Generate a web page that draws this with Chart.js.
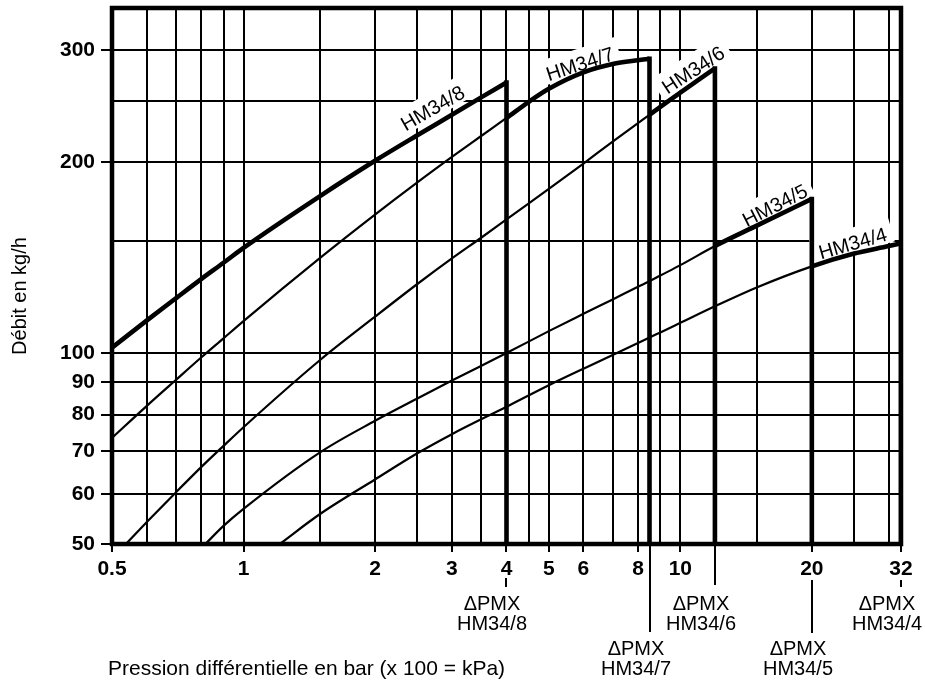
<!DOCTYPE html>
<html>
<head>
<meta charset="utf-8">
<script src="https://cdn.jsdelivr.net/npm/chart.js@4.4.1/dist/chart.umd.min.js"></script>
<style>
html,body{margin:0;padding:0;background:#fff;}
#wrap{position:relative;width:925px;height:681px;}
</style>
</head>
<body>
<div id="wrap"><canvas id="chart" width="925" height="681"></canvas></div>
<script>
// ---------------- Data ----------------
const xGridValues = [0.5,0.6,0.7,0.8,0.9,1,1.5,2,2.5,3,3.5,4,4.5,5,6,7,8,9,10,15,20,25,30,32];
const xTickLabels = [0.5,1,2,3,4,5,6,8,10,20,32];
const yGridValues = [50,60,70,80,90,100,150,200,250,300];
const yTickLabels = [50,60,70,80,90,100,200,300];
const xMin = 0.5, xMax = 32, yMin = 50, yMax = 350;

const seriesNames = ['HM34/8','HM34/7','HM34/6','HM34/5','HM34/4'];

// pressure (bar) / flow (kg/h)
const pressure8 = [0.5,0.6,0.7,0.8,0.9,1,1.5,2,2.5,3,3.5,4];
const flow8     = [102,112.5,122,130.8,138.8,146.5,177,201,220.5,237.5,253,267];

const pressure7 = [0.5,0.6,0.7,0.8,0.9,1,1.5,2,2.5,3,3.5,4,4.5,5,6,7,8,8.5];
const flow7     = [73.5,82.5,90.7,98.4,105.5,112.3,141.4,165.3,185.8,203.8,219.9,234.8,249,261,277,285.5,289.5,291];

const pressure6 = [0.538,0.6,0.7,0.8,0.9,1,1.5,2,2.5,3,3.5,4,5,6,7,8,8.5,9,10,12];
const flow6     = [50,54.1,60.3,66.1,71.4,76.4,97.6,114.1,128.5,141,152,162.5,181.5,199,215.5,230.5,237.5,244.5,257.5,281];

const pressure5 = [0.818,0.9,1,1.5,2,2.5,3,4,5,6,7,8,8.5,9,10,12,15,20];
const flow5     = [50,53.4,56.8,69.8,78.2,84.8,90.5,100,108.3,115.3,121.5,127.2,129.8,132.5,137.6,147.5,159,175];

const pressure4 = [1.21,1.5,2,2.5,3,4,5,6,7,8,8.5,9,10,12,15,20,25,30,32];
const flow4     = [50,55.8,63.2,69.5,74.5,82.3,89,94.5,99.3,103.7,105.8,107.8,111.6,118.5,127,137,143.5,147.5,149];

// operating range (thick part) starts at this pressure
const thickFromPressure = [0.5, 4, 8.5, 12, 20];

const xTitle = 'Pression différentielle en bar (x 100 = kPa)';
const yTitle = 'Débit en kg/h';
const dpmxText = 'ΔPMX';

// ---------------- Annotation layout (not data) ----------------
const curveLabelAt = [[2.71,243.6],[5.89,285.8],[10.7,279.7],[16.45,171.1],[24.8,149.1]];
const curveLabelAngle = [-30,-18,-33,-27,-16];
const dpmxLowerRow = [false,true,false,true,false];
const extLines = [[34,43],[0,88],[0,41],[36,89],[36,43]];

const FONT = "'Liberation Sans', Arial, Helvetica, sans-serif";

const pressures = [pressure8,pressure7,pressure6,pressure5,pressure4];
const flows = [flow8,flow7,flow6,flow5,flow4];

const datasets = [];
pressures.forEach((p, i) => {
  const q = flows[i];
  const thickIdx = p.indexOf(thickFromPressure[i]);
  datasets.push({
    label: seriesNames[i],
    data: p.map((v, k) => ({x: v, y: q[k]})),
    showLine: true, pointRadius: 0, borderColor: '#000', borderWidth: 2.2,
    cubicInterpolationMode: 'monotone',
    segment: { borderWidth: ctx => ctx.p0DataIndex >= thickIdx ? 4.6 : 2.2 }
  });
  const lx = p[p.length - 1], ly = q[q.length - 1];
  datasets.push({
    label: seriesNames[i] + ' ΔPMX',
    data: [{x: lx, y: ly}, {x: lx, y: yMin}],
    showLine: true, pointRadius: 0, borderColor: '#000', borderWidth: 4.6,
    borderCapStyle: 'square', tension: 0
  });
});

const annot = {
  id: 'annot',
  beforeDatasetsDraw(chart) {
    const {ctx, scales: {x, y}} = chart;
    ctx.save();
    ctx.font = `20px ${FONT}`;
    seriesNames.forEach((t, i) => {
      const px = x.getPixelForValue(curveLabelAt[i][0]);
      const py = y.getPixelForValue(curveLabelAt[i][1]);
      ctx.save();
      ctx.translate(px, py);
      ctx.rotate(curveLabelAngle[i] * Math.PI / 180);
      const w = ctx.measureText(t).width;
      ctx.fillStyle = '#fff';
      ctx.fillRect(-w / 2 - 6, -15, w + 12, 25);
      ctx.fillStyle = '#000';
      ctx.textAlign = 'center';
      ctx.textBaseline = 'alphabetic';
      ctx.fillText(t, 0, 7);
      ctx.restore();
    });
    ctx.restore();
  },
  afterDraw(chart) {
    const {ctx, chartArea: a, scales: {x}} = chart;
    ctx.save();
    ctx.strokeStyle = '#000';
    ctx.lineWidth = 4.5;
    ctx.strokeRect(a.left, a.top, a.right - a.left, a.bottom - a.top);
    ctx.lineWidth = 2;
    ctx.fillStyle = '#000';
    pressures.forEach((p, i) => {
      const px = Math.round(x.getPixelForValue(p[p.length - 1]));
      const [o1, o2] = extLines[i];
      ctx.beginPath();
      ctx.moveTo(px, a.bottom + o1);
      ctx.lineTo(px, a.bottom + o2);
      ctx.stroke();
      ctx.font = `20px ${FONT}`;
      ctx.textAlign = 'center';
      ctx.textBaseline = 'alphabetic';
      const base = a.bottom + (dpmxLowerRow[i] ? 111 : 66);
      ctx.fillText(dpmxText, px - 14, base);
      ctx.fillText(seriesNames[i], px - 14, base + 20);
    });
    ctx.textAlign = 'left';
    ctx.font = `21px ${FONT}`;
    ctx.fillText(xTitle, 108, 675);
    ctx.save();
    ctx.translate(26, 296);
    ctx.rotate(-Math.PI / 2);
    ctx.textAlign = 'center';
    ctx.font = `20px ${FONT}`;
    ctx.fillText(yTitle, 0, 0);
    ctx.restore();
    ctx.restore();
  }
};

new Chart(document.getElementById('chart'), {
  type: 'scatter',
  data: { datasets },
  options: {
    responsive: false,
    animation: false,
    devicePixelRatio: 1,
    events: [],
    layout: { padding: { top: 8, right: 24, left: 0, bottom: 0 } },
    plugins: { legend: { display: false }, tooltip: { enabled: false } },
    scales: {
      x: {
        type: 'logarithmic', min: xMin, max: xMax,
        afterBuildTicks: s => { s.ticks = xGridValues.map(v => ({ value: v })); },
        afterFit: s => { s.height = 137; s.paddingLeft = 0; s.paddingRight = 0; },
        ticks: {
          autoSkip: false, maxRotation: 0, minRotation: 0, padding: 5, color: '#000',
          font: { family: FONT, size: 21, weight: 'bold' },
          callback: v => xTickLabels.includes(v) ? String(v) : ''
        },
        grid: {
          color: '#000', lineWidth: 2, drawTicks: true, tickLength: 8, tickWidth: 2,
          tickColor: c => (c.tick && xTickLabels.includes(c.tick.value)) ? '#000' : 'rgba(0,0,0,0)'
        },
        border: { display: false }
      },
      y: {
        type: 'logarithmic', min: yMin, max: yMax,
        afterBuildTicks: s => { s.ticks = yGridValues.map(v => ({ value: v })); },
        afterFit: s => { s.width = 112; s.paddingTop = 0; s.paddingBottom = 0; },
        ticks: {
          autoSkip: false, padding: 6, color: '#000',
          font: { family: FONT, size: 21, weight: 'bold' },
          callback: v => yTickLabels.includes(v) ? String(v) : ''
        },
        grid: {
          color: '#000', lineWidth: 2, drawTicks: true, tickLength: 11, tickWidth: 2,
          tickColor: c => (c.tick && yTickLabels.includes(c.tick.value)) ? '#000' : 'rgba(0,0,0,0)'
        },
        border: { display: false }
      }
    }
  },
  plugins: [annot]
});
</script>
</body>
</html>
